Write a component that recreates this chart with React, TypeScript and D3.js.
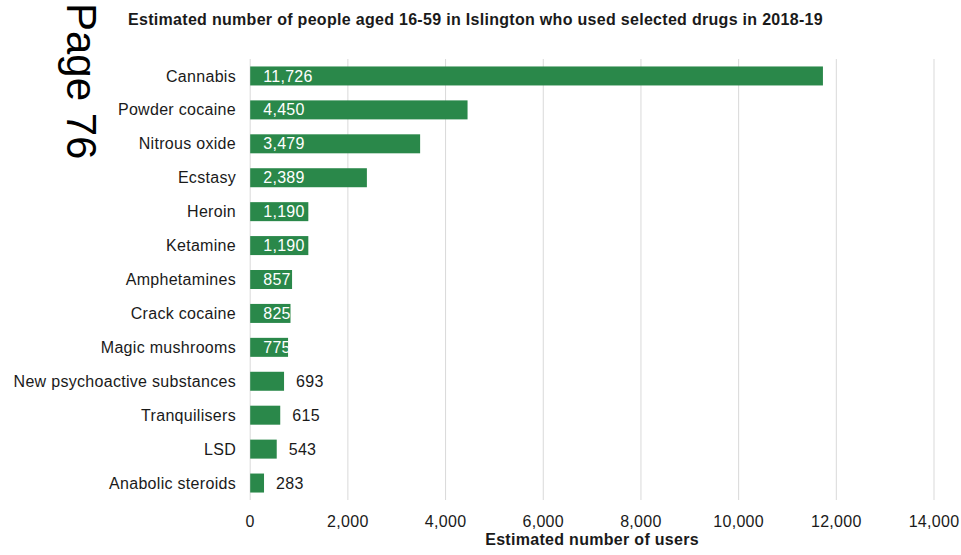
import React from "react";
import * as d3 from "d3";

const categories = [
  "Cannabis",
  "Powder cocaine",
  "Nitrous oxide",
  "Ecstasy",
  "Heroin",
  "Ketamine",
  "Amphetamines",
  "Crack cocaine",
  "Magic mushrooms",
  "New psychoactive substances",
  "Tranquilisers",
  "LSD",
  "Anabolic steroids",
];

const users = [11726, 4450, 3479, 2389, 1190, 1190, 857, 825, 775, 693, 615, 543, 283];

const xTicks = [0, 2000, 4000, 6000, 8000, 10000, 12000, 14000];

const title = "Estimated number of people aged 16-59 in Islington who used selected drugs in 2018-19";
const xTitle = "Estimated number of users";
const pageLabel = "Page 76";

const W = 961;
const H = 555;
const FONT = "Liberation Sans, Arial, Helvetica, sans-serif";
const BAR = "#2a884a";
const GRID = "#d9d9d9";
const LS = 0.3;

export default function App() {
  const x = d3.scaleLinear().domain([0, 14000]).range([250.2, 934]);
  const y = d3
    .scaleBand<string>()
    .domain(categories)
    .range([59, 500])
    .paddingInner(0.44)
    .paddingOuter(0.22);
  const fmt = d3.format(",");
  const bw = y.bandwidth();

  return (
    <svg
      width={W}
      height={H}
      style={{ position: "absolute", left: 0, top: 0, background: "#fff" }}
      fontFamily={FONT}
    >
      <text
        x={475.5}
        y={25}
        textAnchor="middle"
        fontSize={16}
        fontWeight="bold"
        letterSpacing={LS}
        fill="#1a1a1a"
      >
        {title}
      </text>

      {/* vertical gridlines */}
      {xTicks.map((t) => (
        <line
          key={t}
          x1={x(t)}
          x2={x(t)}
          y1={59}
          y2={500}
          stroke={GRID}
          strokeWidth={1}
        />
      ))}

      {/* bars */}
      {categories.map((c, i) => (
        <rect
          key={c}
          x={x(0)}
          y={y(c)}
          width={x(users[i]) - x(0)}
          height={bw}
          fill={BAR}
        />
      ))}

      {/* category labels */}
      {categories.map((c) => (
        <text
          key={c}
          x={236}
          y={(y(c) ?? 0) + bw / 2}
          dy="0.35em"
          textAnchor="end"
          fontSize={16}
          letterSpacing={LS}
          fill="#1a1a1a"
        >
          {c}
        </text>
      ))}

      {/* value labels: inside the bar when it is long enough, else after it */}
      <defs>
        {categories.map((c, i) => (
          <clipPath key={c} id={`clip-${i}`}>
            <rect x={x(0)} y={y(c)} width={x(users[i]) - x(0)} height={bw} />
          </clipPath>
        ))}
      </defs>
      {categories.map((c, i) => {
        const v = users[i];
        const inside = v >= 750;
        const cy = (y(c) ?? 0) + bw / 2;
        return inside ? (
          <text
            key={c}
            x={x(0) + 13}
            y={cy}
            dy="0.35em"
            fontSize={16}
            letterSpacing={LS}
            fill="#ffffff"
            clipPath={`url(#clip-${i})`}
          >
            {fmt(v)}
          </text>
        ) : (
          <text
            key={c}
            x={x(v) + 12}
            y={cy}
            dy="0.35em"
            fontSize={16}
            letterSpacing={LS}
            fill="#1a1a1a"
          >
            {fmt(v)}
          </text>
        );
      })}

      {/* x tick labels */}
      {xTicks.map((t) => (
        <text
          key={t}
          x={x(t)}
          y={527}
          textAnchor="middle"
          fontSize={16}
          letterSpacing={LS}
          fill="#1a1a1a"
        >
          {fmt(t)}
        </text>
      ))}

      <text
        x={(x(0) + x(14000)) / 2}
        y={545}
        textAnchor="middle"
        fontSize={16}
        fontWeight="bold"
        letterSpacing={LS}
        fill="#1a1a1a"
      >
        {xTitle}
      </text>

      <text
        transform="translate(67,3) rotate(90)"
        fontSize={42}
        fill="#000"
      >
        {pageLabel}
      </text>
    </svg>
  );
}
